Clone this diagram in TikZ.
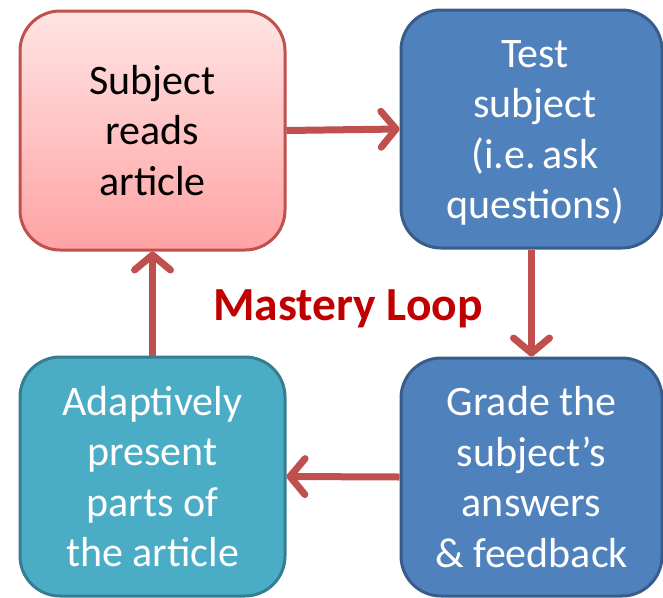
\documentclass[tikz,border=0pt]{standalone}
\usepackage{fontspec}
\setmainfont{Carlito}
\usetikzlibrary{arrows.meta}
\definecolor{arrowred}{HTML}{C0504D}
\definecolor{pinkborder}{HTML}{C0504D}
\definecolor{pinktop}{HTML}{FFE4E4}
\definecolor{pinkbot}{HTML}{FFA3A3}
\definecolor{bluefill}{HTML}{4F81BD}
\definecolor{blueborder}{HTML}{385D8A}
\definecolor{tealfill}{HTML}{4BACC6}
\definecolor{tealborder}{HTML}{357D91}
\definecolor{loopred}{HTML}{C00000}
\begin{document}
\begin{tikzpicture}[x=1pt,y=-1pt,
  box/.style={rectangle, rounded corners=40pt, line width=3pt, inner sep=0pt,
    align=center, font=\fontsize{42}{50.5}\selectfont},
  boxtext/.style={inner sep=0pt, align=center, font=\fontsize{42}{50.5}\selectfont},
  pinkbox/.style={box, draw=pinkborder, top color=pinktop, bottom color=pinkbot, text=black},
  bluebox/.style={box, draw=blueborder, fill=bluefill, text=white},
  tealbox/.style={box, draw=tealborder, fill=tealfill, text=white},
  flow/.style={draw=arrowred, line width=7pt, -{Straight Barb[length=15pt,width=36pt,round]}}
]
\useasboundingbox (0,0) rectangle (663,597);
\node[pinkbox, minimum width=265pt, minimum height=239pt] (read) at (152.5,130.5) {Subject\\reads\\article};
\node[bluebox, minimum width=261pt, minimum height=238pt] (test) at (531.5,129) {};
\node[boxtext, text=white] (testtext) at (535,133) {Test\\subject\\(i.e.\,ask\\questions)};
\node[bluebox, minimum width=261pt, minimum height=238pt] (grade) at (531.5,477) {Grade the\\subject’s\\answers\\\& feedback};
\node[tealbox, minimum width=265pt, minimum height=239pt] (adapt) at (152.5,476.5) {Adaptively\\present\\parts of\\the article};
\node[anchor=base, text=loopred, font=\fontsize{47.5}{50}\selectfont\bfseries] (loop) at (348,320) {Mastery Loop};
\draw[flow] (read.east) -- (test.west);
\draw[flow] (test.south) -- (grade.north);
\draw[flow] (grade.west) -- (adapt.east);
\draw[flow] (adapt.north) -- (read.south);
\end{tikzpicture}
\end{document}
